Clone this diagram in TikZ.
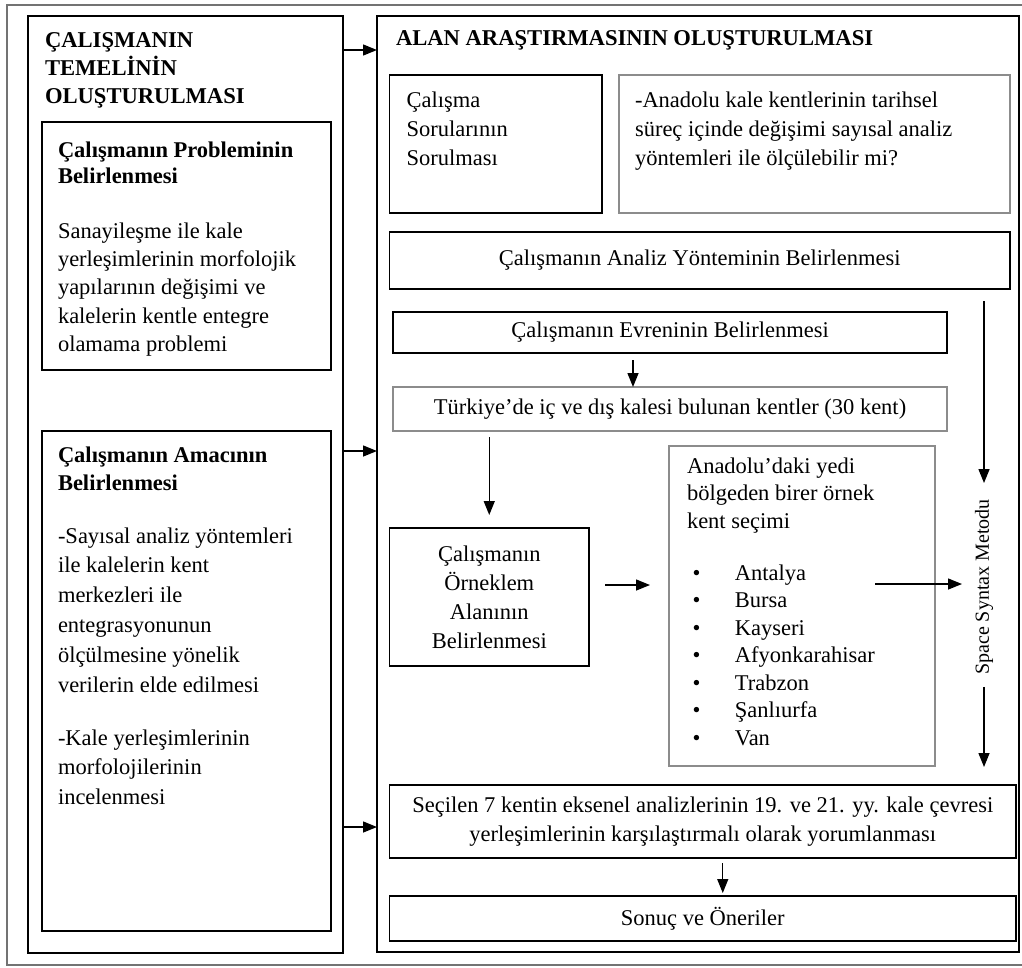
\documentclass[tikz,border=0pt]{standalone}
\usepackage{fontspec}
\setmainfont{Liberation Serif}
\usepackage{tikz}
\usetikzlibrary{positioning,arrows.meta}

\tikzset{
  blackbox/.style={draw=black, line width=1.6pt, inner sep=0pt, outer sep=0pt},
  graybox/.style={draw=black!45, line width=1.3pt, inner sep=0pt, outer sep=0pt},
  txt/.style={inner sep=0pt, outer sep=0pt, align=left, font=\fontsize{22.5}{29}\selectfont},
  ctxt/.style={align=center, font=\fontsize{22.5}{29}\selectfont},
  bigtitle/.style={inner sep=0pt, outer sep=0pt, align=left, font=\fontsize{22.6}{28}\selectfont\bfseries},
  arr/.style={line width=1.4pt, -{Triangle[length=14pt,width=11pt]}},
}

\begin{document}
\begin{tikzpicture}[x=1pt, y=-1pt]
  \useasboundingbox (0,0) rectangle (1022,967);

  % Frame
  \draw[black!55, line width=1.5pt] (1022,5) -- (7,5) -- (7,965) -- (1022,965);

  % Left column
  \node[blackbox, anchor=north west, minimum width=315, minimum height=937] (leftbox) at (28,16) {};
  \node[bigtitle, anchor=north west] (lefttitle) at ([xshift=17,yshift=-16.4]leftbox.north west)
    {ÇALIŞMANIN\\TEMELİNİN\\OLUŞTURULMASI};

  \node[blackbox, anchor=north west, minimum width=289, minimum height=248] (problem) at (42,122) {};
  \node[txt, anchor=north west, font=\fontsize{22.5}{28.3}\selectfont] (problemtxt)
    at ([xshift=16,yshift=-19.6]problem.north west)
    {\textbf{Çalışmanın Probleminin}\\[-2.3pt]\textbf{Belirlenmesi}\\[26.7pt]
     Sanayileşme ile kale\\yerleşimlerinin morfolojik\\yapılarının değişimi ve\\
     kalelerin kentle entegre\\olamama problemi};

  \node[blackbox, anchor=north west, minimum width=289, minimum height=500] (amac) at (42,431) {};
  \node[txt, anchor=north west, font=\fontsize{22.5}{29.8}\selectfont] (amactxt)
    at ([xshift=16,yshift=-15.5]amac.north west)
    {\textbf{Çalışmanın Amacının}\\[-1.8pt]\textbf{Belirlenmesi}\\[23.2pt]
     -Sayısal analiz yöntemleri\\ile kalelerin kent\\merkezleri ile\\entegrasyonunun\\
     ölçülmesine yönelik\\verilerin elde edilmesi\\[23.2pt]
     -Kale yerleşimlerinin\\morfolojilerinin\\incelenmesi};

  % Right column
  \node[blackbox, anchor=north west, minimum width=642, minimum height=936] (bigbox) at (377,16) {};
  \node[bigtitle, anchor=north west] (righttitle) at ([xshift=19,yshift=-14.4]bigbox.north west)
    {ALAN ARAŞTIRMASININ OLUŞTURULMASI};

  \node[blackbox, anchor=north west, minimum width=212.5, minimum height=138] (sorular) at (389.5,75) {};
  \node[txt, anchor=north west] (sorulartxt) at ([xshift=17,yshift=-16.6]sorular.north west)
    {Çalışma\\Sorularının\\Sorulması};

  \node[graybox, anchor=north west, minimum width=391, minimum height=138] (soru) at (619,75) {};
  \node[txt, anchor=north west] (sorutxt) at ([xshift=16,yshift=-16.6]soru.north west)
    {-Anadolu kale kentlerinin tarihsel\\süreç içinde değişimi sayısal analiz\\yöntemleri ile ölçülebilir mi?};

  \node[blackbox, ctxt, anchor=north west, minimum width=620.5, minimum height=57] (analiz) at (389.5,232)
    {Çalışmanın Analiz Yönteminin Belirlenmesi};

  \node[blackbox, ctxt, anchor=north west, minimum width=554, minimum height=41] (evren) at (393,312)
    {Çalışmanın Evreninin Belirlenmesi};

  \node[graybox, ctxt, anchor=north west, minimum width=554, minimum height=44] (turkiye) at (393,387)
    {Türkiye’de iç ve dış kalesi bulunan kentler (30 kent)};

  \node[blackbox, ctxt, anchor=north west, minimum width=199.5, minimum height=138] (orneklem) at (389.5,528)
    {Çalışmanın\\Örneklem\\Alanının\\Belirlenmesi};

  \node[graybox, anchor=north west, minimum width=266, minimum height=320] (anadolu) at (669,446) {};
  \node[txt, anchor=north west, font=\fontsize{22.5}{27.5}\selectfont] (anadolutxt)
    at ([xshift=18,yshift=-11.4]anadolu.north west)
    {Anadolu’daki yedi\\bölgeden birer örnek\\kent seçimi\\[24.5pt]
     \makebox[48pt][l]{\hspace{5.5pt}\textbullet}Antalya\\
     \makebox[48pt][l]{\hspace{5.5pt}\textbullet}Bursa\\
     \makebox[48pt][l]{\hspace{5.5pt}\textbullet}Kayseri\\
     \makebox[48pt][l]{\hspace{5.5pt}\textbullet}Afyonkarahisar\\
     \makebox[48pt][l]{\hspace{5.5pt}\textbullet}Trabzon\\
     \makebox[48pt][l]{\hspace{5.5pt}\textbullet}Şanlıurfa\\
     \makebox[48pt][l]{\hspace{5.5pt}\textbullet}Van};

  \node[rotate=90, inner sep=0pt, font=\fontsize{20}{24}\selectfont] (syntax) at (984,587) {Space Syntax Metodu};

  \node[blackbox, ctxt, anchor=north west, minimum width=626.5, minimum height=73] (secilen) at (389.5,785)
    {Seçilen 7 kentin eksenel analizlerinin 19. ve 21. yy. kale çevresi\\yerleşimlerinin karşılaştırmalı olarak yorumlanması};

  \node[blackbox, ctxt, anchor=north west, minimum width=626.5, minimum height=45] (sonuc) at (389.5,896)
    {Sonuç ve Öneriler};

  % Arrows
  \draw[arr] ([yshift=-34]leftbox.north east) -- ([yshift=-34]bigbox.north west);
  \draw[arr] ([yshift=-435]leftbox.north east) -- ([yshift=-435]bigbox.north west);
  \draw[arr] ([yshift=-811]leftbox.north east) -- ([yshift=-811]bigbox.north west);

  \draw[arr] ([xshift=-37,yshift=-7]evren.south) -- ([xshift=-37]turkiye.north);
  \draw[arr] ([yshift=-6]turkiye.south -| orneklem.north) -- ([yshift=13]orneklem.north);
  \draw[arr] ([xshift=16,yshift=12]orneklem.east) -- ([xshift=-19,yshift=12]orneklem.east -| anadolu.west);
  \draw[arr] ([xshift=-60,yshift=22]anadolu.east) -- ([xshift=-22,yshift=22]anadolu.east -| syntax.center);

  \draw[arr, shorten >=16pt] ([yshift=-12]analiz.south -| syntax) -- (syntax.east);
  \draw[arr, shorten <=12pt, shorten >=18pt] (syntax.west) -- (secilen.north -| syntax);

  \draw[arr] ([xshift=20,yshift=-5]secilen.south) -- ([xshift=20,yshift=3]sonuc.north);
\end{tikzpicture}
\end{document}
